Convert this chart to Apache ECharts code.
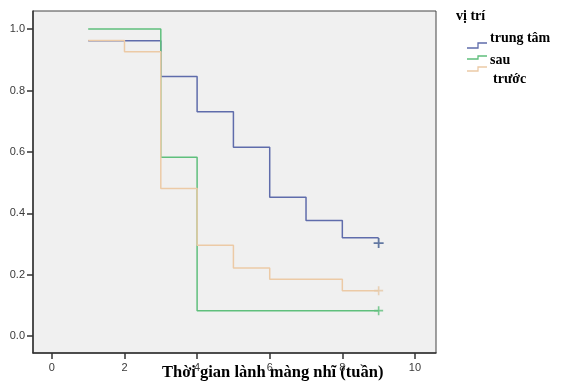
<!DOCTYPE html>
<html><head><meta charset="utf-8">
<script src="https://cdn.jsdelivr.net/npm/echarts@6/dist/echarts.min.js"></script>
<style>html,body{margin:0;padding:0;background:#fff}#c{width:564px;height:382px}</style>
</head><body><div id="c"></div>
<script>
const seriesNames = ['trung tâm', 'sau', 'trước'];
const centerTimes = [1, 3, 4, 5, 6, 7, 8, 9];
const centerSurv  = [0.962, 0.846, 0.731, 0.615, 0.452, 0.377, 0.32, 0.32];
const backTimes   = [1, 3, 4, 9];
const backSurv    = [1.0, 0.583, 0.083, 0.083];
const frontTimes  = [1, 2, 3, 4, 5, 6, 8, 9];
const frontSurv   = [0.963, 0.926, 0.481, 0.296, 0.222, 0.185, 0.148, 0.148];
const censorTimes = [9, 9, 9];
const censorSurv  = [0.303, 0.083, 0.148];
const xTicks = [0, 2, 4, 6, 8, 10];
const yTicks = [0, 0.2, 0.4, 0.6, 0.8, 1.0];
const colors = ['#5f6cab', '#5fbf7c', '#eccaa6'];
const censorColors = ['#3f5a8e', '#5fbf7c', '#e6c8a6'];
const xTitle = 'Thời gian lành màng nhĩ (tuần)';
const legendTitle = 'vị trí';

const curves = [[centerTimes, centerSurv], [backTimes, backSurv], [frontTimes, frontSurv]];
const pair = (t, s) => t.map((v, i) => [v, s[i]]);
const plus = 'path://M-0.9,-5H0.9V-0.9H5V0.9H0.9V5H-0.9V0.9H-5V-0.9H-0.9Z';

const series = [];
curves.forEach((c, i) => {
  series.push({
    name: seriesNames[i], type: 'line', step: 'end', data: pair(c[0], c[1]),
    showSymbol: false, symbol: 'none', color: colors[i],
    lineStyle: { width: 1.5, color: colors[i] }, itemStyle: { color: colors[i] }, z: 3 + i
  });
});
censorTimes.forEach((t, i) => {
  series.push({
    name: seriesNames[i], type: 'scatter', data: [[t, censorSurv[i]]],
    symbol: plus, symbolSize: i === 0 ? 10 : 9, itemStyle: { color: censorColors[i] }, z: 6, silent: true
  });
});

// legend (drawn as graphics so the SPSS-like offsets can be matched)
const legendTextY = [38, 60, 79];
const legendTextX = [490, 490, 493];
const legendIconY = [[48, 43], [59, 56], [71, 67]];
const graphics = [
  { type: 'text', left: 456, top: 9, style: { text: legendTitle, fontFamily: 'Liberation Serif, serif', fontSize: 14, fontWeight: 'bold', fill: '#000' } },
  { type: 'text', left: 162, top: 364, style: { text: xTitle, fontFamily: 'Liberation Serif, serif', fontSize: 16.5, fontWeight: 'bold', fill: '#000' } }
];
seriesNames.forEach((n, i) => {
  const [lo, hi] = legendIconY[i];
  graphics.push({ type: 'polyline', shape: { points: [[467, lo], [478, lo], [478, hi], [487, hi]] },
    style: { stroke: colors[i], lineWidth: 1.3, fill: null } });
  graphics.push({ type: 'text', x: legendTextX[i], y: legendTextY[i],
    style: { text: n, fontFamily: 'Liberation Serif, serif', fontSize: 14, fontWeight: 'bold', fill: '#000', verticalAlign: 'middle' } });
});

const chart = echarts.init(document.getElementById('c'), null, { renderer: 'canvas' });
chart.setOption({
  animation: false,
  backgroundColor: '#ffffff',
  grid: { left: 33, right: 128, top: 11, bottom: 29, show: true, backgroundColor: '#f0f0f0', borderColor: '#444', borderWidth: 1 },
  xAxis: {
    type: 'value', min: -0.52, max: 10.58,
    splitLine: { show: false },
    axisLine: { show: true, onZero: false, lineStyle: { color: '#333', width: 1.5 } },
    axisTick: { show: true, length: 6, customValues: xTicks, lineStyle: { color: '#333', width: 1.5 } },
    axisLabel: { customValues: xTicks, margin: 9, fontFamily: 'Liberation Sans, Arial', fontSize: 11, color: '#3a3a3a' }
  },
  yAxis: {
    type: 'value', min: -0.055, max: 1.059,
    splitLine: { show: false },
    axisLine: { show: true, onZero: false, lineStyle: { color: '#333', width: 1.5 } },
    axisTick: { show: true, length: 6, customValues: yTicks, lineStyle: { color: '#333', width: 1.5 } },
    axisLabel: { customValues: yTicks, margin: 8, fontFamily: 'Liberation Sans, Arial', fontSize: 11, color: '#3a3a3a',
      formatter: v => v.toFixed(1) }
  },
  graphic: graphics,
  series: series
});
</script></body></html>
